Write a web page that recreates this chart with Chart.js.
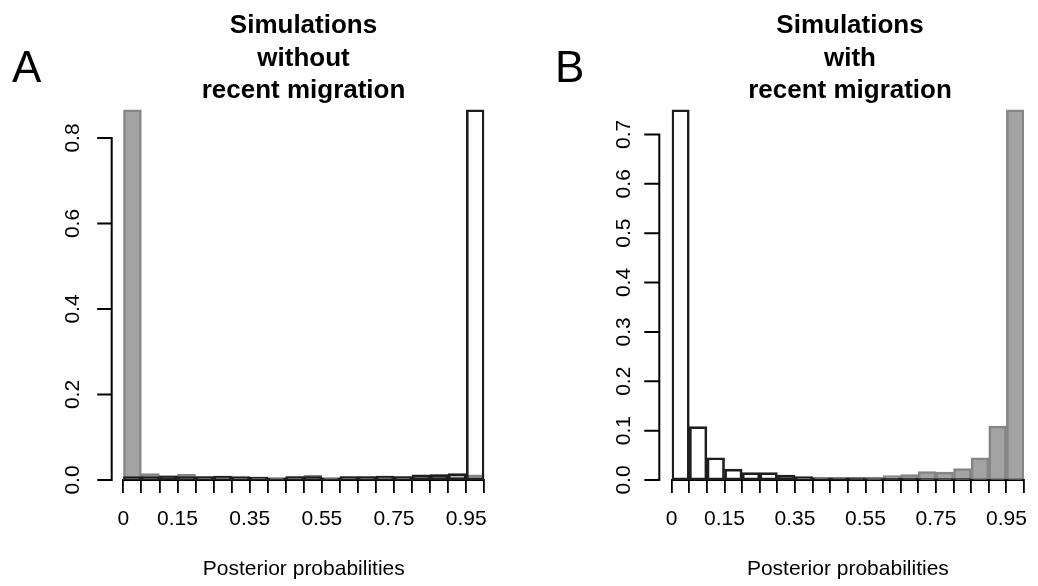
<!DOCTYPE html>
<html>
<head>
<meta charset="utf-8">
<script src="https://cdn.jsdelivr.net/npm/chart.js@4/dist/chart.umd.min.js"></script>
<style>
  html, body { margin: 0; padding: 0; background: #fff; }
  #wrap { position: relative; width: 1038px; height: 586px; overflow: hidden; font-family: "Liberation Sans", Arial, sans-serif; }
  canvas { position: absolute; top: 0; }
  .ttl { position: absolute; text-align: center; font-weight: bold; font-size: 26px; line-height: 32.5px; color: #000; }
  .lett { position: absolute; font-size: 44px; line-height: 44px; color: #000; }
</style>
</head>
<body>
<div id="wrap">
  <canvas id="cA" width="519" height="586" style="left:0"></canvas>
  <canvas id="cB" width="519" height="586" style="left:519px"></canvas>
  <div class="lett" style="left:12px; top:45px;">A</div>
  <div class="lett" style="left:555px; top:45px;">B</div>
  <div class="ttl" style="left:123px; width:361px; top:8px;">Simulations<br>without<br>recent migration</div>
  <div class="ttl" style="left:671px; width:358px; top:8px;">Simulations<br>with<br>recent migration</div>
</div>
<script>
// ---- data ----
const binLow = [0, 0.05, 0.10, 0.15, 0.20, 0.25, 0.30, 0.35, 0.40, 0.45, 0.50, 0.55, 0.60, 0.65, 0.70, 0.75, 0.80, 0.85, 0.90, 0.95];
const binEdges = [0, 0.05, 0.10, 0.15, 0.20, 0.25, 0.30, 0.35, 0.40, 0.45, 0.50, 0.55, 0.60, 0.65, 0.70, 0.75, 0.80, 0.85, 0.90, 0.95, 1.0];
const binWidth = 0.05;
const xLabelValues = [0, 0.15, 0.35, 0.55, 0.75, 0.95];
const xLabelTexts = ["0", "0.15", "0.35", "0.55", "0.75", "0.95"];
const xTitle = "Posterior probabilities";

// Panel A: simulations without recent migration
const greyA  = [0.866, 0.015, 0.010, 0.013, 0.008, 0.009, 0.009, 0.007, 0.005, 0.008, 0.011, 0.005, 0.008, 0.008, 0.009, 0.008, 0.011, 0.013, 0.008, 0.012];
const whiteA = [0.008, 0.008, 0.010, 0.008, 0.008, 0.009, 0.007, 0.007, 0.005, 0.008, 0.008, 0.005, 0.008, 0.008, 0.009, 0.008, 0.012, 0.012, 0.015, 0.866];
const yTicksA = [0, 0.2, 0.4, 0.6, 0.8];

// Panel B: simulations with recent migration
const greyB  = [0.003, 0.002, 0.002, 0.002, 0.002, 0.002, 0.002, 0.003, 0.003, 0.004, 0.006, 0.006, 0.009, 0.011, 0.017, 0.016, 0.023, 0.045, 0.109, 0.750];
const whiteB = [0.750, 0.108, 0.045, 0.022, 0.015, 0.015, 0.010, 0.007, 0.005, 0.005, 0.004, 0.003, 0.004, 0.004, 0.003, 0.003, 0.003, 0.002, 0.002, 0.002];
const yTicksB = [0, 0.1, 0.2, 0.3, 0.4, 0.5, 0.6, 0.7];

// ---- rendering ----
const FONT = "'Liberation Sans', Arial, sans-serif";

const rYAxis = {
  id: 'rYAxis',
  afterDatasetsDraw(chart, args, opts) {
    const ys = chart.scales.y, ctx = chart.ctx;
    const x0 = chart.chartArea.left - opts.gap;
    const t = ys.ticks;
    const bot = ys.getPixelForValue(t[0].value);
    const top = ys.getPixelForValue(t[t.length - 1].value);
    ctx.save();
    ctx.strokeStyle = '#000';
    ctx.lineWidth = 2;
    ctx.lineCap = 'square';
    ctx.beginPath();
    ctx.moveTo(x0, bot); ctx.lineTo(x0, top);
    t.forEach(tk => {
      const p = ys.getPixelForValue(tk.value);
      ctx.moveTo(x0 - opts.len, p); ctx.lineTo(x0, p);
    });
    ctx.stroke();
    ctx.restore();
  }
};

function toXY(vals) {
  return vals.map((v, i) => ({ x: binLow[i] + binWidth / 2, y: v }));
}

function makeChart(id, grey, white, yTicks, cfg) {
  return new Chart(document.getElementById(id), {
    type: 'bar',
    data: {
      datasets: [
        { label: 'Open', data: toXY(white), backgroundColor: 'rgba(255,255,255,0)', borderColor: '#1e1e1e', borderWidth: 2, borderSkipped: false, grouped: false, barPercentage: 1, categoryPercentage: 1 },
        { label: 'Shaded', data: toXY(grey), backgroundColor: '#a3a3a3', borderColor: '#858585', borderWidth: 2.5, borderSkipped: false, grouped: false, barPercentage: 1, categoryPercentage: 1 }
      ]
    },
    options: {
      responsive: false,
      animation: false,
      devicePixelRatio: 1,
      layout: { padding: { left: 0, right: cfg.padRight, top: 100, bottom: 0 } },
      plugins: {
        legend: { display: false },
        tooltip: { enabled: false },
        title: { display: false },
        rYAxis: { gap: cfg.gap, len: cfg.len }
      },
      scales: {
        x: {
          type: 'linear',
          min: 0, max: 1,
          offset: false,
          grid: { offset: false, display: true, drawOnChartArea: false, drawTicks: true, tickLength: 13, color: '#000', lineWidth: 1.8 },
          border: { display: true, color: '#000', width: 2 },
          afterBuildTicks: s => { s.ticks = binEdges.map(v => ({ value: v })); },
          afterFit: s => { s.height = 106; },
          ticks: {
            autoSkip: false, maxRotation: 0, minRotation: 0, padding: 14,
            color: '#000', font: { family: FONT, size: 21 },
            callback: v => {
              const k = xLabelValues.findIndex(lv => Math.abs(lv - v) < 1e-6);
              return k >= 0 ? xLabelTexts[k] : '';
            }
          },
          title: { display: true, text: xTitle, color: '#000', font: { family: FONT, size: 21 }, padding: { top: 0, bottom: 4 } }
        },
        y: {
          type: 'linear',
          min: 0, max: cfg.yMax,
          grid: { display: false, drawTicks: false },
          border: { display: false },
          afterBuildTicks: s => { s.ticks = yTicks.map(v => ({ value: v })); },
          afterFit: s => { s.width = cfg.yWidth; },
          ticks: {
            minRotation: 90, maxRotation: 90, crossAlign: 'center', padding: cfg.yPad,
            color: '#000', font: { family: FONT, size: 21 },
            callback: v => Number(v).toFixed(1)
          }
        }
      }
    },
    plugins: [rYAxis]
  });
}

makeChart('cA', greyA, whiteA, yTicksA, { padRight: 34.7, yWidth: 123.3, yMax: 380 / 427.5, yPad: 35.7, gap: 11.6, len: 13.5 });
makeChart('cB', greyB, whiteB, yTicksB, { padRight: 9, yWidth: 152.7, yMax: 380 / 493.7, yPad: 32.6, gap: 12.4, len: 14 });
</script>
</body>
</html>
